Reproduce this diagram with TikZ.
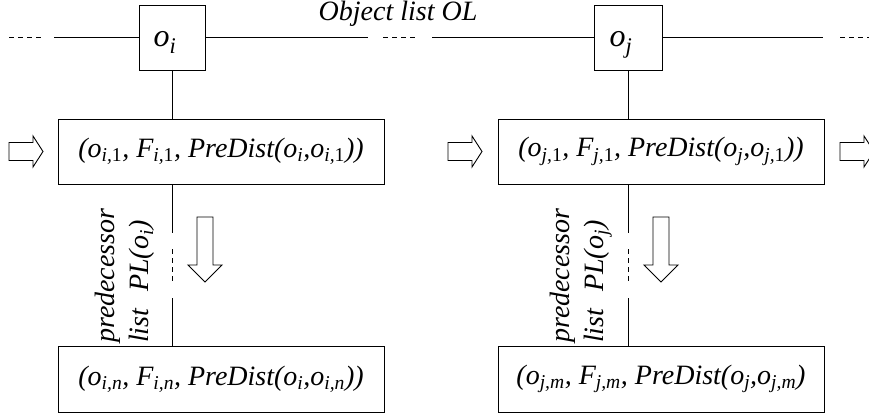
\documentclass[tikz,border=0pt]{standalone}
\usepackage{fontspec}
\setmainfont{Liberation Serif}
\newcommand\sbx[1]{\textsubscript{#1}}
\newcommand\objtxt[1]{\makebox[0pt][l]{\hspace{-19pt}\raisebox{-9.5pt}{#1}}}
\begin{document}
\begin{tikzpicture}[x=1pt,y=-1pt,
  box/.style={draw,line width=0.9pt,inner sep=0pt,font=\fontsize{28}{32}\selectfont\itshape},
  objbox/.style={box,minimum width=66pt,minimum height=65pt,text height=0pt,text depth=0pt,font=\fontsize{32}{36}\selectfont\itshape},
  entrybox/.style={box,minimum width=326pt,minimum height=65pt},
  link/.style={line width=0.9pt},
  dlink/.style={line width=0.9pt,dash pattern=on 5pt off 4pt},
  blk/.style={line width=0.9pt,fill=white},
  lbl/.style={font=\fontsize{28}{34}\selectfont\itshape,inner sep=0pt}]
\useasboundingbox (0,0) rectangle (869,414);
\clip (0,0) rectangle (869,414);
% object boxes
\node[objbox] (oi) at (172.5,37.5) {\objtxt{o\sbx{i}}};
\node[objbox,minimum width=68pt] (oj) at (628.5,37.5) {\objtxt{o\sbx{j}}};
% entry boxes
\node[entrybox] (bi1) at (221,151.5) {(o\sbx{i,\textup{1}}, F\sbx{i,\textup{1}}, PreDist(o\sbx{i},o\sbx{i,\textup{1}}))};
\node[entrybox] (bj1) at (661,151.5) {(o\sbx{j,\textup{1}}, F\sbx{j,\textup{1}}, PreDist(o\sbx{j},o\sbx{j,\textup{1}}))};
\node[entrybox,minimum height=66pt] (bin) at (221,379) {(o\sbx{i,n}, F\sbx{i,n}, PreDist(o\sbx{i},o\sbx{i,n}))};
\node[entrybox,minimum height=66pt] (bjm) at (661,379) {(o\sbx{j,m}, F\sbx{j,m}, PreDist(o\sbx{j},o\sbx{j,m})};
% object list line
\coordinate (l0) at (9,37.5);
\coordinate (l1) at (43,37.5);
\coordinate (l2) at (54,37.5);
\coordinate (m0) at (368,37.5);
\coordinate (m1) at (383,37.5);
\coordinate (m2) at (418,37.5);
\coordinate (m3) at (432,37.5);
\coordinate (r0) at (823,37.5);
\coordinate (r1) at (840,37.5);
\coordinate (r2) at (869,37.5);
\draw[dlink] (l0) -- (l1);
\draw[link] (l2) -- (oi.west);
\draw[link] (oi.east) -- (m0);
\draw[dlink] (m1) -- (m2);
\draw[link] (m3) -- (oj.west);
\draw[link] (oj.east) -- (r0);
\draw[dlink] (r1) -- (r2);
\node[lbl] (ol) at (398,14) {Object list OL};
% vertical links
\draw[link] (oi.south) -- (oi.south |- bi1.north);
\draw[link] (oj.south) -- (oj.south |- bj1.north);
\coordinate (ia) at (172.5,233);
\coordinate (ib) at (172.5,249);
\coordinate (ic) at (172.5,282);
\coordinate (id) at (172.5,298);
\draw[link] (ia |- bi1.south) -- (ia);
\draw[dlink] (ib) -- (ic);
\draw[link] (id) -- (id |- bin.north);
\coordinate (ja) at (628.5,233);
\coordinate (jb) at (628.5,249);
\coordinate (jc) at (628.5,282);
\coordinate (jd) at (628.5,298);
\draw[link] (ja |- bj1.south) -- (ja);
\draw[dlink] (jb) -- (jc);
\draw[link] (jd) -- (jd |- bjm.north);
% predecessor labels
\node[lbl,rotate=90,anchor=south west,align=left] (pli) at (155,343) {predecessor\\list\hspace{0.6em}PL(o\sbx{i})};
\node[lbl,rotate=90,anchor=south west,align=left] (plj) at (612,343) {predecessor\\list\hspace{0.6em}PL(o\sbx{j})};
% block arrows
\tikzset{
  rblk/.pic={\draw[blk] (0,-9) -- (24,-9) -- (24,-15.5) -- (34,0) -- (24,15.5) -- (24,9) -- (0,9) -- cycle;},
  dblk/.pic={\draw[blk] (-8,0) -- (8,0) -- (8,48) -- (17,48) -- (0,65) -- (-17,48) -- (-8,48) -- cycle;}}
\pic at (9,151.5) {rblk};
\pic at (448,151.5) {rblk};
\pic at (840,151.5) {rblk};
\pic at (205,217) {dblk};
\pic at (661,217) {dblk};
\end{tikzpicture}
\end{document}
